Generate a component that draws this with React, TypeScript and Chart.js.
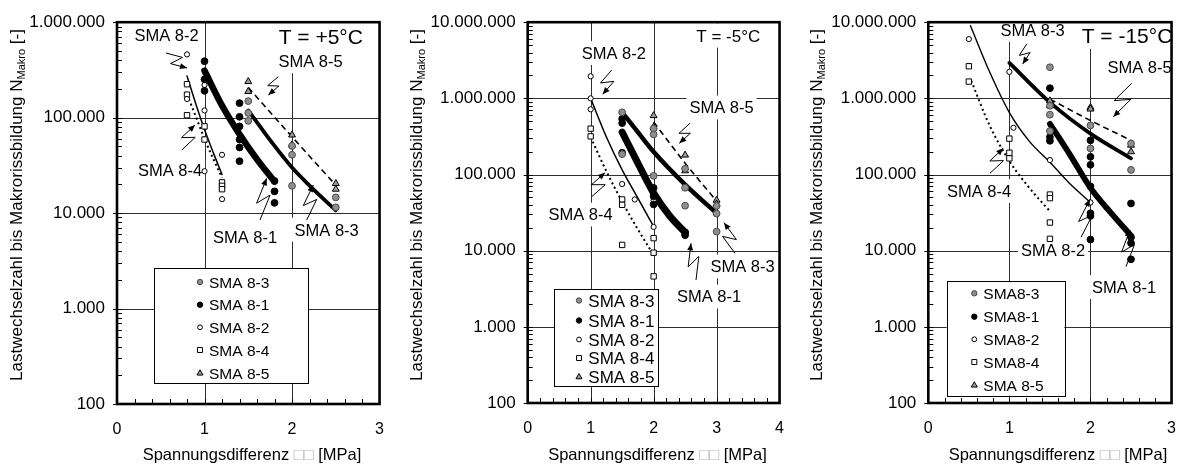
import React, { useEffect, useRef } from "react";
import { Chart, registerables } from "chart.js";

Chart.register(...registerables);

const FONT = '"Liberation Sans", Arial, Helvetica, sans-serif';
const H = 465;

type Pt = [number, number];

// ---------------- text ----------------
const NAMES_A = ["SMA 8-3", "SMA 8-1", "SMA 8-2", "SMA 8-4", "SMA 8-5"];
const NAMES_C = ["SMA8-3", "SMA8-1", "SMA8-2", "SMA8-4", "SMA 8-5"];
const TEMPS = ["T = +5°C", "T = -5°C", "T = -15°C"];
const Y_TITLE_MAIN = "Lastwechselzahl bis Makrorissbildung N";
const Y_TITLE_SUB = "Makro";
const Y_TITLE_END = " [-]";
const X_TITLE_A = "Spannungsdifferenz ";
const X_TITLE_SYM = "\u25A1\u25A1";
const X_TITLE_B = " [MPa]";

// ---------------- panel 1 (T = +5°C) ----------------
const P1_SMA83: Pt[] = [[1.5, 149000], [1.5, 112000], [1.5, 92500], [2.0, 50600], [2.0, 40800], [2.0, 19300], [2.5, 14600], [2.5, 11500]];
const P1_SMA81: Pt[] = [[1.0, 390000], [1.0, 252000], [1.0, 191000], [1.4, 142000], [1.4, 102000], [1.4, 81000], [1.4, 59000], [1.4, 48700], [1.4, 35000], [1.8, 21700], [1.8, 16900], [1.8, 12800]];
const P1_SMA82: Pt[] = [[0.8, 460000], [0.8, 157000], [1.0, 220000], [1.0, 119000], [1.0, 27500], [1.2, 40800], [1.2, 14000]];
const P1_SMA84: Pt[] = [[0.8, 224000], [0.8, 174000], [0.8, 106000], [1.0, 81000], [1.0, 59000], [1.2, 21000], [1.2, 19300], [1.2, 17800]];
const P1_SMA85: Pt[] = [[1.5, 239000], [1.5, 188000], [2.0, 65800], [2.0, 51800], [2.5, 20400], [2.5, 17800]];
const P1_FIT81: Pt[] = [[1.0, 310000], [1.2, 134000], [1.4, 67000], [1.6, 36500], [1.8, 21400]];
const P1_FIT83: Pt[] = [[1.5, 119000], [1.75, 58000], [2.0, 30000], [2.25, 17500], [2.5, 10700]];
const P1_FIT82: Pt[] = [[0.8, 273000], [0.9, 140000], [1.0, 75000], [1.1, 43000], [1.2, 25400]];
const P1_FIT84: Pt[] = [[0.8, 175000], [0.9, 103000], [1.0, 60000], [1.1, 37000], [1.2, 23500]];
const P1_FIT85: Pt[] = [[1.5, 207000], [2.0, 63000], [2.5, 19600]];

// ---------------- panel 2 (T = -5°C) ----------------
const P2_SMA83: Pt[] = [[1.5, 656000], [1.5, 185000], [2.0, 400000], [2.0, 336000], [2.0, 96000], [2.5, 119000], [2.5, 67000], [2.5, 39000], [3.0, 38700], [3.0, 30700], [3.0, 17800]];
const P2_SMA81: Pt[] = [[1.5, 538000], [1.5, 473000], [1.5, 193000], [2.0, 66700], [2.0, 52000], [2.0, 40500], [2.5, 17400], [2.5, 16000]];
const P2_SMA82: Pt[] = [[1.0, 1950000], [1.0, 1000000], [1.0, 718000], [1.5, 75000], [1.7, 47000], [2.0, 46000], [2.0, 20500]];
const P2_SMA84: Pt[] = [[1.0, 400000], [1.0, 317000], [1.5, 47000], [1.5, 40000], [1.5, 11900], [2.0, 14600], [2.0, 9400], [2.0, 4600]];
const P2_SMA85: Pt[] = [[2.0, 593000], [2.0, 420000], [2.5, 180000], [2.5, 112000], [3.0, 46000], [3.0, 41000]];
const P2_FIT81: Pt[] = [[1.5, 361000], [1.75, 141000], [2.0, 57000], [2.25, 29000], [2.5, 17400]];
const P2_FIT83: Pt[] = [[1.5, 656000], [1.75, 360000], [2.0, 199000], [2.5, 73600], [3.0, 31000]];
const P2_FIT82: Pt[] = [[1.0, 1000000], [1.25, 311000], [1.5, 115000], [1.75, 49000], [2.0, 20800]];
const P2_FIT84: Pt[] = [[1.0, 310000], [1.25, 110000], [1.5, 44000], [1.75, 19000], [1.97, 9600]];
const P2_FIT85: Pt[] = [[2.0, 488000], [2.5, 141000], [3.0, 44800]];

// ---------------- panel 3 (T = -15°C) ----------------
const P3_SMA83: Pt[] = [[1.5, 2560000], [1.5, 800000], [1.5, 611000], [1.5, 372000], [2.0, 441000], [2.0, 220000], [2.5, 255000], [2.5, 115000]];
const P3_SMA81: Pt[] = [[1.5, 1360000], [1.5, 311000], [1.5, 277000], [2.0, 281000], [2.0, 171000], [2.0, 134000], [2.0, 70000], [2.0, 31000], [2.0, 28600], [2.0, 14000], [2.5, 41700], [2.5, 15000], [2.5, 12600], [2.5, 7700]];
const P3_SMA82: Pt[] = [[0.5, 6000000], [1.0, 2230000], [1.05, 411000], [1.5, 155000], [2.0, 43000]];
const P3_SMA84: Pt[] = [[0.5, 2640000], [0.5, 1660000], [1.0, 296000], [1.0, 193000], [1.0, 163000], [1.5, 54600], [1.5, 49000], [1.5, 23400], [1.5, 14300]];
const P3_SMA85: Pt[] = [[1.5, 929000], [1.5, 800000], [2.0, 762000], [2.0, 724000], [2.5, 243000], [2.5, 199000]];
const P3_FIT81: Pt[] = [[1.5, 463000], [1.75, 180000], [2.0, 66700], [2.25, 31600], [2.5, 15800]];
const P3_FIT83: Pt[] = [[1.0, 2920000], [1.5, 885000], [2.0, 344000], [2.5, 163000]];
const P3_FIT82: Pt[] = [[0.52, 9000000], [0.75, 2300000], [1.0, 650000], [1.25, 270000], [1.5, 145000], [1.75, 75000], [2.0, 43000]];
const P3_FIT84: Pt[] = [[0.53, 1700000], [0.75, 455000], [1.0, 150000], [1.25, 66000], [1.5, 33000]];
const P3_FIT85: Pt[] = [[1.5, 977000], [2.0, 512000], [2.5, 281000]];

// ---------------- styles ----------------
// order: 8-3, 8-1, 8-2, 8-4, 8-5
const MARKS = [
  { bg: "#8e8e8e", bd: "#4a4a4a", shape: "circle", r: 3.4, lr: 2.7 },
  { bg: "#000000", bd: "#000000", shape: "circle", r: 3.4, lr: 2.7 },
  { bg: "#ffffff", bd: "#000000", shape: "circle", r: 2.6, lr: 2.4 },
  { bg: "#ffffff", bd: "#000000", shape: "rect", r: 3.8, lr: 3.5 },
  { bg: "#9a9a9a", bd: "#000000", shape: "triangle", r: 4, lr: 3.5 },
];
// fit order: 8-1, 8-3, 8-2, 8-4, 8-5
const FIT_DASH = [[], [], [], [2, 3], [6, 4]];

interface Label { text: string; x: number; y: number; size: number; }
interface Leader { s: [number, number]; t: [number, number]; w: number; }
interface PanelDef {
  left: number; width: number;
  plot: { l: number; r: number; t: number; b: number };
  xMax: number; yMax: number;
  scatter: Pt[][]; fits: Pt[][]; fitWidth: number[];
  labels: Label[]; leaders: Leader[];
  legend: { x0: number; y0: number; x1: number; y1: number; rows: number[]; mx: number; tx: number; size: number; names: string[] };
  yTitleX: number; yTitleY: number; xTitleX: number;
}

const PANELS: PanelDef[] = [
  {
    left: 0, width: 400,
    plot: { l: 117, r: 381, t: 17, b: 404 },
    xMax: 3, yMax: 1e6,
    scatter: [P1_SMA83, P1_SMA81, P1_SMA82, P1_SMA84, P1_SMA85],
    fits: [P1_FIT81, P1_FIT83, P1_FIT82, P1_FIT84, P1_FIT85],
    fitWidth: [6.5, 3.8, 1.5, 2, 1.6],
    labels: [
      { text: TEMPS[0], x: 320.8, y: 36.3, size: 21 },
      { text: "SMA 8-2", x: 166.5, y: 35, size: 16.5 },
      { text: "SMA 8-5", x: 310.5, y: 61.3, size: 16.5 },
      { text: "SMA 8-4", x: 170, y: 169.7, size: 16.5 },
      { text: "SMA 8-1", x: 245, y: 237, size: 16.5 },
      { text: "SMA 8-3", x: 326.7, y: 229.7, size: 16.5 },
    ],
    leaders: [
      { s: [166, 53], t: [187, 68], w: -6 },
      { s: [278.3, 76.7], t: [268.3, 95], w: 5 },
      { s: [181.7, 150], t: [195, 125], w: 6 },
      { s: [260, 220], t: [266.7, 178.3], w: 6 },
      { s: [306.7, 220], t: [313.3, 185], w: 6 },
    ],
    legend: { x0: 154, y0: 268, x1: 308, y1: 383, rows: [282, 304.7, 327.3, 350, 373.3], mx: 200, tx: 209, size: 15.5, names: NAMES_A },
    yTitleX: 21.5, yTitleY: 205, xTitleX: 252,
  },
  {
    left: 400, width: 400,
    plot: { l: 127.7, r: 383, t: 17, b: 403 },
    xMax: 4, yMax: 1e7,
    scatter: [P2_SMA83, P2_SMA81, P2_SMA82, P2_SMA84, P2_SMA85],
    fits: [P2_FIT81, P2_FIT83, P2_FIT82, P2_FIT84, P2_FIT85],
    fitWidth: [7, 4.5, 1.5, 2, 1.6],
    labels: [
      { text: TEMPS[1], x: 328.3, y: 35.5, size: 17 },
      { text: "SMA 8-2", x: 213.8, y: 53, size: 16.5 },
      { text: "SMA 8-5", x: 321.5, y: 107.5, size: 16.5 },
      { text: "SMA 8-4", x: 180.5, y: 214.5, size: 16.5 },
      { text: "SMA 8-3", x: 342.5, y: 266.5, size: 16.5 },
      { text: "SMA 8-1", x: 309, y: 296.5, size: 16.5 },
    ],
    leaders: [
      { s: [211.7, 70], t: [202.7, 94.3], w: 6 },
      { s: [191.7, 196.7], t: [205, 172.7], w: 6 },
      { s: [290, 123.3], t: [279.3, 143.3], w: 5 },
      { s: [335, 253.3], t: [324, 222.7], w: -6 },
      { s: [296, 280], t: [291, 243.3], w: 6 },
    ],
    legend: { x0: 154, y0: 289, x1: 258, y1: 386, rows: [300.5, 320.5, 339.5, 358, 377], mx: 179, tx: 188.3, size: 17, names: NAMES_A },
    yTitleX: 21.5, yTitleY: 205, xTitleX: 257.5,
  },
  {
    left: 800, width: 392,
    plot: { l: 128.3, r: 382.7, t: 17, b: 403 },
    xMax: 3, yMax: 1e7,
    scatter: [P3_SMA83, P3_SMA81, P3_SMA82, P3_SMA84, P3_SMA85],
    fits: [P3_FIT81, P3_FIT83, P3_FIT82, P3_FIT84, P3_FIT85],
    fitWidth: [5.8, 3.8, 1.4, 2, 1.6],
    labels: [
      { text: "SMA 8-3", x: 232.5, y: 30, size: 16.5 },
      { text: TEMPS[2], x: 327, y: 35.3, size: 21 },
      { text: "SMA 8-5", x: 339.5, y: 67.5, size: 16.5 },
      { text: "SMA 8-4", x: 179, y: 191, size: 16.5 },
      { text: "SMA 8-2", x: 253, y: 250, size: 16.5 },
      { text: "SMA 8-1", x: 324, y: 287, size: 16.5 },
    ],
    leaders: [
      { s: [226.7, 44], t: [222.7, 64], w: 5 },
      { s: [331.7, 83.3], t: [313.3, 116.7], w: 7 },
      { s: [190, 173.3], t: [203.3, 148.3], w: 6 },
      { s: [281, 237.3], t: [290, 199.3], w: 6 },
      { s: [326, 266.7], t: [330, 230], w: 6 },
    ],
    legend: { x0: 146.7, y0: 281, x1: 264.3, y1: 395.7, rows: [293.3, 316.7, 339.3, 362, 385.3], mx: 174.3, tx: 183.3, size: 15.5, names: NAMES_C },
    yTitleX: 21.5, yTitleY: 205, xTitleX: 258,
  },
];

function fmtThousands(v: number): string {
  return Math.round(v).toString().replace(/\B(?=(\d{3})+(?!\d))/g, ".");
}

function isDecade(v: number): boolean {
  const l = Math.log10(v);
  return Math.abs(l - Math.round(l)) < 1e-6;
}

function drawMarker(ctx: CanvasRenderingContext2D, shape: string, x: number, y: number, r: number, bg: string, bd: string) {
  ctx.beginPath();
  if (shape === "circle") {
    ctx.arc(x, y, r, 0, Math.PI * 2);
  } else if (shape === "rect") {
    const s = r * Math.SQRT1_2;
    ctx.rect(x - s, y - s, 2 * s, 2 * s);
  } else {
    let a = 0;
    ctx.moveTo(x + Math.sin(a) * r, y - Math.cos(a) * r);
    a += (2 * Math.PI) / 3;
    ctx.lineTo(x + Math.sin(a) * r, y - Math.cos(a) * r);
    a += (2 * Math.PI) / 3;
    ctx.lineTo(x + Math.sin(a) * r, y - Math.cos(a) * r);
    ctx.closePath();
  }
  ctx.fillStyle = bg;
  ctx.fill();
  ctx.lineWidth = 1;
  ctx.strokeStyle = bd;
  ctx.stroke();
}

function makeDeco(p: PanelDef) {
  return {
    id: "deco",
    beforeDatasetsDraw(chart: any) {
      const ctx: CanvasRenderingContext2D = chart.ctx;
      const xs = chart.scales.x;
      const ys = chart.scales.y;
      const { left, right, top, bottom } = chart.chartArea;
      ctx.save();
      ctx.strokeStyle = "#2e2e2e";
      ctx.lineWidth = 1;
      ctx.beginPath();
      for (let v = 1; v < p.xMax; v++) {
        const x = Math.round(xs.getPixelForValue(v)) + 0.5;
        ctx.moveTo(x, top);
        ctx.lineTo(x, bottom);
      }
      const topExp = Math.round(Math.log10(p.yMax));
      for (let e = 3; e < topExp; e++) {
        const y = Math.round(ys.getPixelForValue(Math.pow(10, e))) + 0.5;
        ctx.moveTo(left, y);
        ctx.lineTo(right, y);
      }
      ctx.stroke();
      // annotation labels with white boxes
      ctx.textAlign = "center";
      ctx.textBaseline = "alphabetic";
      for (const lb of p.labels) {
        ctx.font = `${lb.size}px ${FONT}`;
        const w = ctx.measureText(lb.text).width;
        const cap = lb.size * 0.716;
        const base = lb.y + cap / 2;
        ctx.fillStyle = "#ffffff";
        ctx.fillRect(lb.x - w / 2 - 3, base - cap - 6, w + 6, cap + 12);
        ctx.fillStyle = "#000000";
        ctx.fillText(lb.text, lb.x, base);
      }
      ctx.restore();
    },
    afterDatasetsDraw(chart: any) {
      const ctx: CanvasRenderingContext2D = chart.ctx;
      const xs = chart.scales.x;
      const ys = chart.scales.y;
      const { left, right, top, bottom } = chart.chartArea;
      ctx.save();
      // minor ticks
      ctx.strokeStyle = "#000";
      ctx.lineWidth = 1;
      ctx.beginPath();
      const topExp = Math.round(Math.log10(p.yMax));
      for (let e = 2; e < topExp; e++) {
        for (let k = 2; k <= 9; k++) {
          const y = Math.round(ys.getPixelForValue(k * Math.pow(10, e))) + 0.5;
          ctx.moveTo(left, y);
          ctx.lineTo(left + 5, y);
        }
      }
      for (let e = 2; e <= topExp; e++) {
        const y = Math.round(ys.getPixelForValue(Math.pow(10, e))) + 0.5;
        ctx.moveTo(left - 4, y);
        ctx.lineTo(left + 5, y);
      }
      const nx = Math.round(p.xMax / 0.2);
      for (let i = 1; i < nx; i++) {
        const x = Math.round(xs.getPixelForValue(i * 0.2)) + 0.5;
        ctx.moveTo(x, bottom);
        ctx.lineTo(x, bottom - 5);
      }
      ctx.stroke();
      // frame
      ctx.lineWidth = 2.6;
      ctx.strokeRect(left, top, right - left, bottom - top);
      // legend
      const lg = p.legend;
      ctx.fillStyle = "#fff";
      ctx.fillRect(lg.x0, lg.y0, lg.x1 - lg.x0, lg.y1 - lg.y0);
      ctx.lineWidth = 1;
      ctx.strokeStyle = "#000";
      ctx.strokeRect(Math.round(lg.x0) + 0.5, Math.round(lg.y0) + 0.5, Math.round(lg.x1 - lg.x0), Math.round(lg.y1 - lg.y0));
      ctx.font = `${lg.size}px ${FONT}`;
      ctx.textAlign = "left";
      ctx.textBaseline = "alphabetic";
      for (let i = 0; i < 5; i++) {
        const m = MARKS[i];
        drawMarker(ctx, m.shape, lg.mx, lg.rows[i], m.lr, m.bg, m.bd);
        ctx.fillStyle = "#000";
        ctx.fillText(lg.names[i], lg.tx, lg.rows[i] + (lg.size * 0.716) / 2);
      }
      // leaders
      ctx.strokeStyle = "#000";
      ctx.fillStyle = "#000";
      ctx.lineWidth = 1;
      for (const ld of p.leaders) {
        const [sx, sy] = ld.s;
        const [tx, ty] = ld.t;
        const dx = tx - sx, dy = ty - sy;
        const L = Math.hypot(dx, dy);
        const ux = dx / L, uy = dy / L;
        const nxv = -uy, nyv = ux;
        const ax = sx + 0.62 * dx + ld.w * nxv, ay = sy + 0.62 * dy + ld.w * nyv;
        const bx = sx + 0.38 * dx - ld.w * nxv, by = sy + 0.38 * dy - ld.w * nyv;
        ctx.beginPath();
        ctx.moveTo(sx, sy);
        ctx.lineTo(ax, ay);
        ctx.lineTo(bx, by);
        ctx.lineTo(tx, ty);
        ctx.stroke();
        const ddx = tx - bx, ddy = ty - by;
        const dl = Math.hypot(ddx, ddy);
        const vx = ddx / dl, vy = ddy / dl;
        ctx.beginPath();
        ctx.moveTo(tx, ty);
        ctx.lineTo(tx - vx * 7 - vy * 3, ty - vy * 7 + vx * 3);
        ctx.lineTo(tx - vx * 7 + vy * 3, ty - vy * 7 - vx * 3);
        ctx.closePath();
        ctx.fill();
      }
      ctx.restore();
    },
    afterDraw(chart: any) {
      const ctx: CanvasRenderingContext2D = chart.ctx;
      ctx.save();
      // y title (rotated, with subscript)
      ctx.translate(p.yTitleX, p.yTitleY);
      ctx.rotate(-Math.PI / 2);
      ctx.textAlign = "left";
      ctx.textBaseline = "alphabetic";
      ctx.fillStyle = "#000";
      ctx.font = `17px ${FONT}`;
      const w1 = ctx.measureText(Y_TITLE_MAIN).width;
      const w3 = ctx.measureText(Y_TITLE_END).width;
      ctx.font = `11px ${FONT}`;
      const w2 = ctx.measureText(Y_TITLE_SUB).width;
      let x = -(w1 + w2 + w3) / 2;
      ctx.font = `17px ${FONT}`;
      ctx.fillText(Y_TITLE_MAIN, x, 0);
      x += w1;
      ctx.font = `11px ${FONT}`;
      ctx.fillText(Y_TITLE_SUB, x, 3);
      x += w2;
      ctx.font = `17px ${FONT}`;
      ctx.fillText(Y_TITLE_END, x, 0);
      ctx.restore();
      // x title
      ctx.save();
      ctx.font = `16.5px ${FONT}`;
      ctx.textAlign = "left";
      ctx.textBaseline = "alphabetic";
      const a = ctx.measureText(X_TITLE_A).width;
      const b = ctx.measureText(X_TITLE_SYM).width;
      const c = ctx.measureText(X_TITLE_B).width;
      let xx = p.xTitleX - (a + b + c) / 2;
      const base = 460;
      ctx.fillStyle = "#000";
      ctx.fillText(X_TITLE_A, xx, base);
      xx += a;
      ctx.fillStyle = "#b4b4b4";
      ctx.fillText(X_TITLE_SYM, xx, base);
      xx += b;
      ctx.fillStyle = "#000";
      ctx.fillText(X_TITLE_B, xx, base);
      ctx.restore();
    },
  };
}

function toXY(a: Pt[]) {
  return a.map(([x, y]) => ({ x, y }));
}

function buildConfig(p: PanelDef): any {
  const datasets: any[] = [];
  p.scatter.forEach((arr, i) => {
    const m = MARKS[i];
    datasets.push({
      label: NAMES_A[i],
      data: toXY(arr),
      showLine: false,
      pointStyle: m.shape,
      pointRadius: m.r,
      pointBackgroundColor: m.bg,
      pointBorderColor: m.bd,
      pointBorderWidth: 1,
    });
  });
  p.fits.forEach((arr, i) => {
    datasets.push({
      label: "fit " + i,
      data: toXY(arr),
      showLine: true,
      pointRadius: 0,
      borderColor: "#000",
      backgroundColor: "#000",
      borderWidth: p.fitWidth[i],
      borderDash: FIT_DASH[i],
      borderCapStyle: FIT_DASH[i].length ? "butt" : "round",
      borderJoinStyle: "round",
      cubicInterpolationMode: "monotone",
      fill: false,
    });
  });
  const tickFont = { family: FONT, size: 17 };
  return {
    type: "scatter",
    data: { datasets },
    options: {
      responsive: false,
      animation: false,
      devicePixelRatio: 1,
      events: [],
      layout: { padding: { left: 0, top: p.plot.t, right: p.width - p.plot.r, bottom: 0 } },
      plugins: { legend: { display: false }, tooltip: { enabled: false }, title: { display: false } },
      scales: {
        x: {
          type: "linear",
          min: 0,
          max: p.xMax,
          ticks: { stepSize: 1, font: { family: FONT, size: 16 }, color: "#000", padding: 16, maxRotation: 0, autoSkip: false },
          grid: { display: false, drawTicks: false },
          border: { display: false },
          afterFit: (s: any) => { s.height = H - p.plot.b; },
        },
        y: {
          type: "logarithmic",
          min: 100,
          max: p.yMax,
          ticks: {
            font: tickFont,
            color: "#000",
            padding: 12,
            autoSkip: false,
            callback: (v: any) => (isDecade(Number(v)) ? fmtThousands(Number(v)) : ""),
          },
          grid: { display: false, drawTicks: false },
          border: { display: false },
          afterFit: (s: any) => { s.width = p.plot.l; },
        },
      },
    },
    plugins: [makeDeco(p)],
  };
}

function PanelChart({ p }: { p: PanelDef }) {
  const ref = useRef<HTMLCanvasElement>(null);
  useEffect(() => {
    if (!ref.current) return;
    const chart = new Chart(ref.current, buildConfig(p));
    return () => chart.destroy();
  }, [p]);
  return (
    <canvas
      ref={ref}
      width={p.width}
      height={H}
      style={{ position: "absolute", left: p.left, top: 0, width: p.width, height: H }}
    />
  );
}

export default function App() {
  return (
    <div style={{ position: "absolute", left: 0, top: 0, width: 1192, height: H, background: "#fff", overflow: "hidden" }}>
      {PANELS.map((p, i) => (
        <PanelChart key={i} p={p} />
      ))}
    </div>
  );
}
